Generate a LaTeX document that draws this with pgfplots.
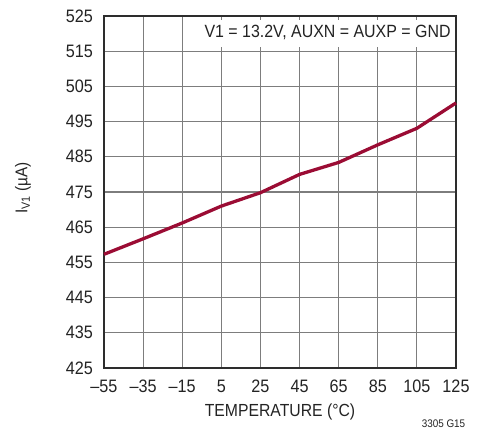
\documentclass[border=0pt]{standalone}
\usepackage{fontspec}
\setmainfont{Liberation Sans}[FakeStretch=0.9]
\usepackage{pgfplots}
\pgfplotsset{compat=1.18}
\definecolor{curve}{RGB}{155,12,52}
\definecolor{gridc}{RGB}{125,125,125}
\definecolor{framec}{RGB}{45,45,45}
\definecolor{textc}{RGB}{35,35,35}

\begin{document}
\begin{tikzpicture}[x=1pt,y=1pt]
\useasboundingbox (-104,-64) rectangle (383,368);
\begin{axis}[
  at={(0,0)}, anchor=south west,
  scale only axis, width=352pt, height=352pt,
  xmin=-55, xmax=125, ymin=425, ymax=525,
  xtick={-55,-35,...,125},
  xticklabels={–55,–35,–15,5,25,45,65,85,105,125},
  ytick={425,435,...,525},
  yticklabels={425,435,445,455,465,475,485,495,505,515,525},
  /pgf/number format/assume math mode=true,
  grid=major,
  major grid style={gridc, line width=1.1pt},
  axis line style={framec, line width=1.8pt},
  tick style={draw=none},
  ticklabel style={font=\fontsize{18}{18}\selectfont, text=textc, inner sep=0pt},
  xticklabel style={anchor=north, yshift=-12pt},
  yticklabel style={anchor=east, xshift=-11pt},
  clip=false,
]
% current vs temperature
\addplot[curve, line width=3.3pt, line join=round] coordinates {
  (-55,457.3) (-35,461.7) (-15,466.2) (5,471.0) (25,474.8)
  (45,480.0) (65,483.4) (85,488.4) (105,493.1) (125,500.3)
};
% condition box
\fill[white] (axis cs:-14.1,516.1) rectangle (axis cs:124.2,524.0);
\node[font=\fontsize{17.7}{17.7}\selectfont, text=textc] at (axis cs:59.3,520.2)
  {V1 = 13.2V, AUXN = AUXP = GND};
\end{axis}
\node[rotate=90, font=\fontsize{17}{17}\selectfont, text=textc] at (-81,180)
  {I\textsubscript{V1} (µA)};
\node[font=\fontsize{17.5}{17.5}\selectfont, text=textc] at (176,-43.7)
  {TEMPERATURE (°C)};
\node[font=\fontsize{11}{11}\selectfont, text=textc] at (339.5,-56) {3305 G15};
\node[anchor=east, font=\fontsize{18}{18}\selectfont, text=textc] at (-100.5,-18) {5};
\end{tikzpicture}
\end{document}
